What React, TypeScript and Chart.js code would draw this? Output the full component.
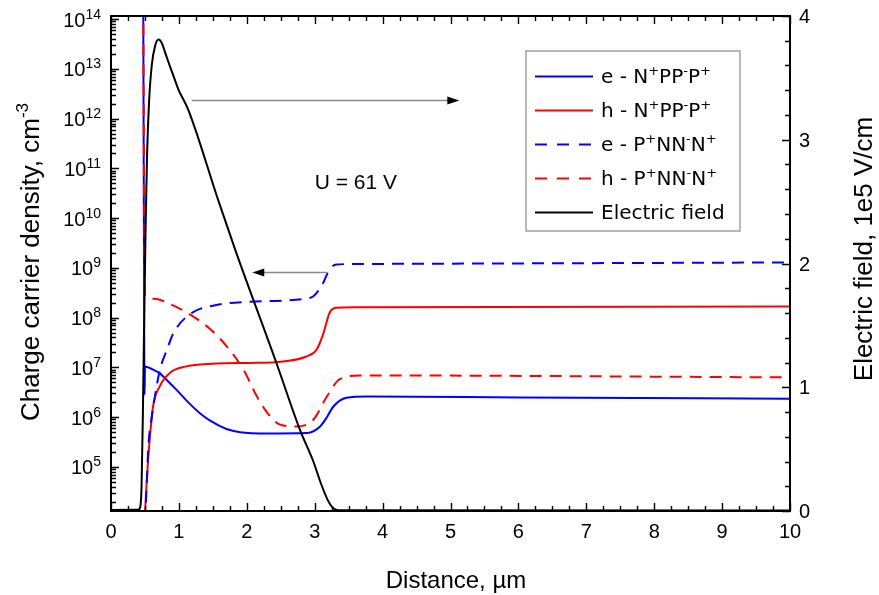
import React, { useEffect, useRef } from "react";
import { Chart, registerables } from "chart.js";

Chart.register(...registerables);

// ---------------- data ----------------
const xRange = [0, 10];
const densityRange = [1.3e4, 1.16e14];
const fieldRange = [0, 4];

const xTickValues = [0, 1, 2, 3, 4, 5, 6, 7, 8, 9, 10];
const xMinorStep = 0.25;
const densityTickExponents = [5, 6, 7, 8, 9, 10, 11, 12, 13, 14];
const fieldTickValues = [0, 1, 2, 3, 4];
const fieldMinorStep = 0.2;

// e - N+PP-P+  (solid blue)
const eNPPx = [0.475, 0.495, 0.5, 0.6, 0.72, 0.82, 0.97, 1.12, 1.31, 1.46, 1.7, 1.9, 2.3, 2.89, 3.08, 3.18, 3.27, 3.47, 3.77, 6, 10];
const eNPPy = [2e14, 2.8e6, 1.05e7, 9.3e6, 7.6e6, 5.6e6, 3.5e6, 2.1e6, 1.2e6, 8.5e5, 5.8e5, 5.0e5, 4.7e5, 4.8e5, 6.5e5, 1.0e6, 1.6e6, 2.45e6, 2.6e6, 2.5e6, 2.35e6];

// h - N+PP-P+  (solid red)
const hNPPx = [0.485, 0.505, 0.525, 0.55, 0.575, 0.62, 0.72, 0.87, 1.11, 1.55, 2.05, 2.54, 2.88, 3.03, 3.13, 3.22, 3.32, 3.6, 10];
const hNPPy = [3e3, 1.5e4, 4.8e4, 1.6e5, 4.2e5, 1.66e6, 4.2e6, 7.8e6, 1.05e7, 1.2e7, 1.23e7, 1.32e7, 1.66e7, 2.3e7, 4.9e7, 1.26e8, 1.58e8, 1.62e8, 1.68e8];

// e - P+NN-N+  (dashed blue)
const ePNNx = [0.495, 0.51, 0.525, 0.55, 0.6, 0.67, 0.72, 0.82, 0.92, 1.16, 1.55, 2.05, 2.54, 2.85, 2.98, 3.1, 3.22, 3.32, 3.6, 10];
const ePNNy = [3e3, 1.3e4, 4e4, 2.5e5, 1e6, 4e6, 8.9e6, 2.2e7, 4.9e7, 1.17e8, 1.8e8, 2.1e8, 2.2e8, 2.4e8, 2.7e8, 4.3e8, 9.3e8, 1.17e9, 1.2e9, 1.29e9];

// h - P+NN-N+  (dashed red)
const hPNNx = [0.475, 0.5, 0.65, 0.82, 1.16, 1.46, 1.71, 1.95, 2.15, 2.3, 2.49, 2.74, 2.98, 3.18, 3.37, 3.67, 10];
const hPNNy = [2e14, 2.7e8, 2.4e8, 2.0e8, 1.17e8, 5.9e7, 2.6e7, 9.1e6, 2.6e6, 1.24e6, 7.1e5, 6.5e5, 8.9e5, 2.6e6, 5.8e6, 6.9e6, 6.3e6];

// Electric field, 1e5 V/cm (right axis)
const fieldX = [0, 0.4, 0.43, 0.45, 0.47, 0.49, 0.51, 0.53, 0.56, 0.6, 0.65, 0.7, 0.75, 0.8, 0.87, 0.93, 0.99, 1.14, 1.58, 1.83, 2.44, 2.78, 2.98, 3.1, 3.2, 3.27, 3.35, 10];
const fieldY = [0.008, 0.01, 0.03, 0.2, 0.8, 1.6, 2.3, 2.85, 3.3, 3.6, 3.76, 3.81, 3.78, 3.7, 3.59, 3.5, 3.41, 3.24, 2.51, 2.11, 1.19, 0.66, 0.4, 0.21, 0.08, 0.025, 0.006, 0.005];

const seriesLabels = ["e - N⁺PP⁻P⁺", "h - N⁺PP⁻P⁺", "e - P⁺NN⁻N⁺", "h - P⁺NN⁻N⁺", "Electric field"];

const xTitle = "Distance, µm";
const yTitle = "Charge carrier density, cm⁻³";
const y1Title = "Electric field, 1e5 V/cm";
const annotationText = "U = 61 V";

// annotation anchors in data coordinates
const fieldArrow = { from: 1.19, to: 5.13, e: 3.32 };
const densityArrow = { from: 3.18, to: 2.08, n: 8.3e8 };
const annotationAnchor = { x: 3.0, e: 2.6 };

// --------------- helpers ---------------
const SUP_MAP: Record<string, string> = {
  "⁺": "+", "⁻": "-", "⁰": "0", "¹": "1", "²": "2", "³": "3", "⁴": "4",
  "⁵": "5", "⁶": "6", "⁷": "7", "⁸": "8", "⁹": "9",
};

type Part = { t: string; sup?: boolean };

function toParts(s: string): Part[] {
  const parts: Part[] = [];
  for (const ch of s) {
    const sup = ch in SUP_MAP;
    const t = sup ? SUP_MAP[ch] : ch;
    const last = parts[parts.length - 1];
    if (last && !!last.sup === sup) last.t += t;
    else parts.push({ t, sup });
  }
  return parts;
}

function drawRich(
  ctx: CanvasRenderingContext2D,
  parts: Part[],
  x: number,
  y: number,
  size: number,
  supSize: number,
  family: string,
  align: "left" | "center" | "right",
  raise: number
) {
  const base = `${size}px ${family}`;
  const sup = `${supSize}px ${family}`;
  const widths = parts.map((p) => {
    ctx.font = p.sup ? sup : base;
    return ctx.measureText(p.t).width;
  });
  const w = widths.reduce((a, b) => a + b, 0);
  let cx = align === "left" ? x : align === "center" ? x - w / 2 : x - w;
  ctx.textAlign = "left";
  ctx.textBaseline = "alphabetic";
  parts.forEach((p, i) => {
    ctx.font = p.sup ? sup : base;
    ctx.fillText(p.t, cx, p.sup ? y - raise : y);
    cx += widths[i];
  });
}

function arrowHead(ctx: CanvasRenderingContext2D, tipX: number, y: number, dir: number) {
  ctx.beginPath();
  ctx.moveTo(tipX, y);
  ctx.lineTo(tipX - dir * 12, y - 4);
  ctx.lineTo(tipX - dir * 12, y + 4);
  ctx.closePath();
  ctx.fill();
}

const SANS = '"Liberation Sans", Arial, sans-serif';
const LEG = '"DejaVu Sans", Verdana, sans-serif';

const framePlugin = {
  id: "framePlugin",
  afterDatasetsDraw(chart: any) {
    const { ctx, chartArea: a, scales } = chart;
    const sx = scales.x, sy = scales.y, sy1 = scales.y1;
    ctx.save();
    ctx.fillStyle = "#000";
    ctx.strokeStyle = "#000";

    // ticks
    ctx.lineWidth = 1.4;
    ctx.beginPath();
    const nx = Math.round((xRange[1] - xRange[0]) / xMinorStep);
    for (let i = 0; i <= nx; i++) {
      const v = xRange[0] + i * xMinorStep;
      const px = Math.round(sx.getPixelForValue(v)) + 0.5;
      const major = xTickValues.some((t) => Math.abs(t - v) < 1e-9);
      const len = major ? 8 : 5;
      ctx.moveTo(px, a.bottom);
      ctx.lineTo(px, a.bottom - len);
      ctx.moveTo(px, a.top);
      ctx.lineTo(px, a.top + len);
    }
    const lo = Math.floor(Math.log10(densityRange[0]));
    const hi = Math.ceil(Math.log10(densityRange[1]));
    for (let e = lo; e <= hi; e++) {
      for (let m = 1; m <= 9; m++) {
        const v = m * Math.pow(10, e);
        if (v < densityRange[0] || v > densityRange[1]) continue;
        const py = Math.round(sy.getPixelForValue(v)) + 0.5;
        const len = m === 1 ? 8 : 5;
        ctx.moveTo(a.left, py);
        ctx.lineTo(a.left + len, py);
      }
    }
    const ny = Math.round((fieldRange[1] - fieldRange[0]) / fieldMinorStep);
    for (let i = 0; i <= ny; i++) {
      const v = fieldRange[0] + i * fieldMinorStep;
      const py = Math.round(sy1.getPixelForValue(v)) + 0.5;
      const major = fieldTickValues.some((t) => Math.abs(t - v) < 1e-9);
      const len = major ? 8 : 5;
      ctx.moveTo(a.right, py);
      ctx.lineTo(a.right - len, py);
    }
    ctx.stroke();

    // frame
    ctx.lineWidth = 2;
    ctx.strokeRect(a.left, a.top, a.right - a.left, a.bottom - a.top);

    // x tick labels
    ctx.font = `20px ${SANS}`;
    ctx.textAlign = "center";
    ctx.textBaseline = "alphabetic";
    xTickValues.forEach((v) => {
      ctx.fillText(String(v), sx.getPixelForValue(v), a.bottom + 27);
    });
    // right tick labels
    ctx.textAlign = "left";
    fieldTickValues.forEach((v) => {
      ctx.fillText(String(v), a.right + 9, sy1.getPixelForValue(v) + 7);
    });
    // left tick labels
    densityTickExponents.forEach((e) => {
      const py = sy.getPixelForValue(Math.pow(10, e));
      drawRich(ctx, [{ t: "10" }, { t: String(e), sup: true }], 101, py + 7.5, 20, 14, SANS, "right", 8);
    });

    // axis titles
    ctx.font = `24px ${SANS}`;
    ctx.textAlign = "center";
    ctx.fillText(xTitle, 456, 588);

    ctx.save();
    ctx.translate(39, 262);
    ctx.rotate(-Math.PI / 2);
    drawRich(ctx, toParts(yTitle), 0, 0, 26, 17, SANS, "center", 11);
    ctx.restore();

    ctx.save();
    ctx.translate(872, 249);
    ctx.rotate(-Math.PI / 2);
    ctx.font = `26px ${SANS}`;
    ctx.textAlign = "center";
    ctx.textBaseline = "alphabetic";
    ctx.fillText(y1Title, 0, 0);
    ctx.restore();

    // annotation text
    ctx.font = `21px ${SANS}`;
    ctx.textAlign = "left";
    ctx.textBaseline = "alphabetic";
    ctx.fillText(annotationText, sx.getPixelForValue(annotationAnchor.x), sy1.getPixelForValue(annotationAnchor.e));

    // arrows
    ctx.strokeStyle = "#888";
    ctx.lineWidth = 1.5;
    const fy = Math.round(sy1.getPixelForValue(fieldArrow.e)) + 0.5;
    const f0 = sx.getPixelForValue(fieldArrow.from), f1 = sx.getPixelForValue(fieldArrow.to);
    ctx.beginPath();
    ctx.moveTo(f0, fy);
    ctx.lineTo(f1 - 10, fy);
    ctx.stroke();
    arrowHead(ctx, f1, fy, 1);
    const dy = Math.round(sy.getPixelForValue(densityArrow.n)) + 0.5;
    const d0 = sx.getPixelForValue(densityArrow.from), d1 = sx.getPixelForValue(densityArrow.to);
    ctx.beginPath();
    ctx.moveTo(d0, dy);
    ctx.lineTo(d1 + 10, dy);
    ctx.stroke();
    arrowHead(ctx, d1, dy, -1);

    // legend
    const lx = 526, ly = 51, lw = 214, lh = 180;
    ctx.fillStyle = "#fff";
    ctx.fillRect(lx, ly, lw, lh);
    ctx.strokeStyle = "#a0a0a0";
    ctx.lineWidth = 1.5;
    ctx.strokeRect(lx, ly, lw, lh);
    chart.data.datasets.forEach((ds: any, i: number) => {
      const y = 76 + i * 34;
      ctx.strokeStyle = ds.borderColor;
      ctx.lineWidth = 2;
      ctx.setLineDash(ds.borderDash && ds.borderDash.length ? [12, 10] : []);
      ctx.beginPath();
      ctx.moveTo(535, y + 0.5);
      ctx.lineTo(593, y + 0.5);
      ctx.stroke();
      ctx.setLineDash([]);
      ctx.fillStyle = "#000";
      drawRich(ctx, toParts(ds.label), 601, y + 7, 20, 13, LEG, "left", 8);
    });

    ctx.restore();
  },
};

function pts(xs: number[], ys: number[]) {
  return xs.map((x, i) => ({ x, y: ys[i] }));
}

export default function App() {
  const ref = useRef<HTMLCanvasElement>(null);
  useEffect(() => {
    const common = {
      pointRadius: 0,
      borderWidth: 2,
      fill: false,
      cubicInterpolationMode: "monotone" as const,
    };
    const chart = new Chart(ref.current!, {
      type: "line",
      data: {
        datasets: [
          { ...common, label: seriesLabels[0], data: pts(eNPPx, eNPPy), borderColor: "#0000ff", yAxisID: "y", order: 4 },
          { ...common, label: seriesLabels[1], data: pts(hNPPx, hNPPy), borderColor: "#ff0000", yAxisID: "y", order: 3 },
          { ...common, label: seriesLabels[2], data: pts(ePNNx, ePNNy), borderColor: "#0000ff", borderDash: [12, 8], yAxisID: "y", order: 2 },
          { ...common, label: seriesLabels[3], data: pts(hPNNx, hPNNy), borderColor: "#ff0000", borderDash: [12, 8], yAxisID: "y", order: 1 },
          { ...common, label: seriesLabels[4], data: pts(fieldX, fieldY), borderColor: "#000000", yAxisID: "y1", order: 0 },
        ],
      },
      options: {
        responsive: false,
        animation: false,
        devicePixelRatio: 1,
        layout: { padding: { left: 111, right: 89, top: 16, bottom: 84 } },
        plugins: { legend: { display: false }, tooltip: { enabled: false }, title: { display: false } },
        scales: {
          x: { type: "linear", min: xRange[0], max: xRange[1], display: false },
          y: { type: "logarithmic", min: densityRange[0], max: densityRange[1], display: false },
          y1: { type: "linear", min: fieldRange[0], max: fieldRange[1], display: false, position: "right" },
        },
      },
      plugins: [framePlugin],
    });
    return () => chart.destroy();
  }, []);
  return (
    <div style={{ position: "fixed", left: 0, top: 0, width: 879, height: 595, background: "#fff" }}>
      <canvas ref={ref} width={879} height={595} style={{ display: "block", width: 879, height: 595 }} />
    </div>
  );
}
